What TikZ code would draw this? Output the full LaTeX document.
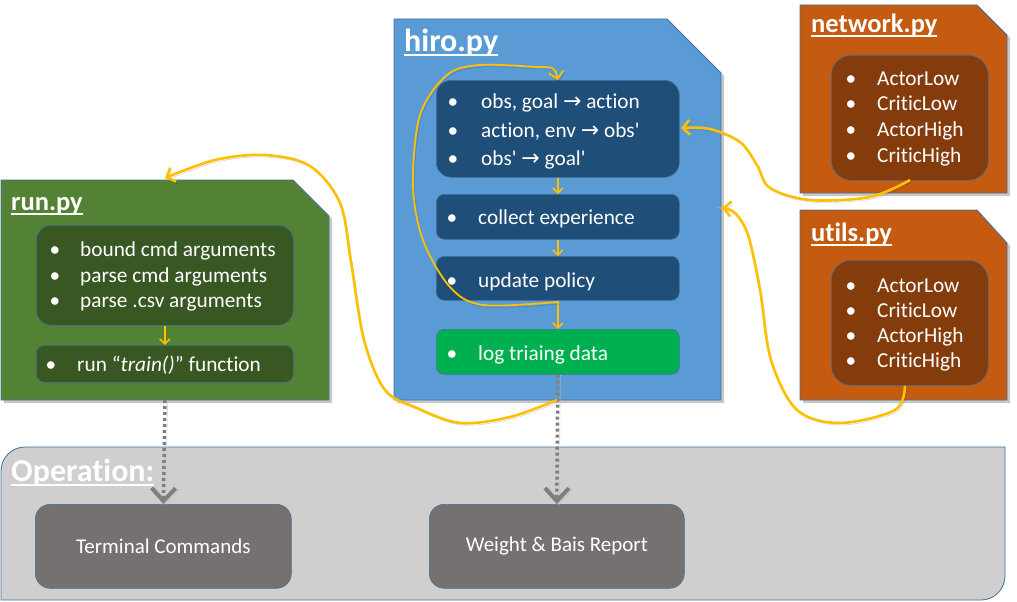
\documentclass[tikz,border=0pt]{standalone}
\usepackage{fontspec}
\setmainfont{Carlito}[Ligatures={TeXOff, NoCommon}]
\newfontfamily\arrowfont{DejaVu Sans}
\usetikzlibrary{arrows.meta}

\definecolor{runfill}{HTML}{548235}
\definecolor{runbox}{HTML}{385723}
\definecolor{hirofill}{HTML}{5B9BD5}
\definecolor{hirobox}{HTML}{1F4E79}
\definecolor{logfill}{HTML}{00B050}
\definecolor{netfill}{HTML}{C55A11}
\definecolor{netbox}{HTML}{843C0C}
\definecolor{opfill}{HTML}{D0CECE}
\definecolor{opbox}{HTML}{767171}
\definecolor{edge}{HTML}{41719C}
\definecolor{flow}{HTML}{FFC000}
\definecolor{dots}{HTML}{7F7F7F}

% underlined heading with the rule just under the baseline
\newsavebox\ttlbox
\newcommand\titleline[1]{\sbox\ttlbox{#1}\rlap{\rule[-4.5pt]{\wd\ttlbox}{2pt}}\usebox\ttlbox}
\newcommand\arr{{\arrowfont\fontsize{22}{24}\selectfont →}}

% bullet + text on one baseline: name, bullet x, text x, baseline y, text
\newcommand\listline[5]{%
  \node[bulletmark] (#1b) at (#2,#4) {•};
  \node[itemtext] (#1) at (#3,#4) {#5};}

\tikzset{
  container/.style={draw=edge, line width=0.8pt,
    preaction={fill=black, opacity=.22, transform canvas={shift={(3pt,-3pt)}}}},
  ibox/.style={draw=edge, line width=0.6pt, inner sep=0pt, anchor=north west},
  itemtext/.style={text=white, font=\fontsize{21.3}{25}\selectfont, inner sep=0pt, anchor=base west},
  bulletmark/.style={text=white, font=\fontsize{21.3}{25}\selectfont, inner sep=0pt, anchor=base},
  titletext/.style={text=white, font=\bfseries\fontsize{26.5}{30}\selectfont, inner sep=0pt, anchor=base west},
  bigtitle/.style={titletext, font=\bfseries\fontsize{32}{36}\selectfont},
  flowstep/.style={draw=flow, line width=1.6pt, -{Straight Barb[length=5pt, width=10pt]}},
  flowcurve/.style={draw=flow, line width=2.6pt, -{Straight Barb[length=7pt, width=15pt]},
    preaction={draw=black, opacity=.22, transform canvas={shift={(1.5pt,-2pt)}}}},
  dotlink/.style={draw=dots, line width=3.5pt, dash pattern=on 3pt off 3pt,
    -{Straight Barb[length=13pt, width=24pt, line width=4pt]},
    preaction={draw=black!22, transform canvas={shift={(2.5pt,-0.5pt)}}}},
}

\begin{document}
\begin{tikzpicture}[x=1pt, y=-1pt]
\useasboundingbox (0,0) rectangle (1017,602);

% ---------- operation panel ----------
\draw[draw=edge, fill=opfill, line width=0.8pt]
  (1,600) -- (1,471) arc[start angle=180, end angle=270, radius=24]
  -- (1005,447) -- (1005,576) arc[start angle=0, end angle=90, radius=24] -- cycle;
\node[bigtitle] (optitle) at (11,481) {\titleline{Operation:}};
\node[ibox, fill=opbox, rounded corners=15pt, minimum width=256pt, minimum height=84pt,
  text=white, font=\fontsize{21}{25}\selectfont] (term) at (35,504) {Terminal Commands};
\node[ibox, fill=opbox, rounded corners=15pt, minimum width=255pt, minimum height=84pt,
  text=white, font=\fontsize{21}{25}\selectfont] (report) at (429,504) {Weight \& Bais Report};

% ---------- run.py ----------
\path[container, fill=runfill] (1,180) -- (293,180) -- (329,216) -- (329,400) -- (1,400) -- cycle;
\coordinate (runtop) at (165,178);
\coordinate (runbot) at (165,400);
\node[titletext] (runtitle) at (11,210) {\titleline{run.py}};
\node[ibox, fill=runbox, rounded corners=15pt, minimum width=257pt, minimum height=100pt] (runA) at (36,225) {};
\node[ibox, fill=runbox, rounded corners=8pt, minimum width=257pt, minimum height=37pt] (runB) at (36,345) {};
\listline{r1}{55}{80}{256}{bound cmd arguments}
\listline{r2}{55}{80}{282}{parse cmd arguments}
\listline{r3}{55}{80}{307}{parse .csv arguments}
\listline{r4}{51}{77}{371}{run “\textit{train()}” function}
\draw[flowstep] (runA.south) -- (runB.north);

% ---------- hiro.py ----------
\path[container, fill=hirofill] (394,19) -- (667,19) -- (721,73) -- (721,400) -- (394,400) -- cycle;
\coordinate (hirobot) at (557,400);
\coordinate (hiroside) at (722,208);
\node[bigtitle] (hirotitle) at (404,52) {\titleline{hiro.py}};
\node[ibox, fill=hirobox, rounded corners=15pt, minimum width=243pt, minimum height=97pt] (hA) at (436,80) {};
\node[ibox, fill=hirobox, rounded corners=8pt, minimum width=243pt, minimum height=45pt] (hB) at (436,194) {};
\node[ibox, fill=hirobox, rounded corners=8pt, minimum width=243pt, minimum height=44pt] (hC) at (436,256) {};
\node[ibox, fill=logfill, rounded corners=8pt, minimum width=243pt, minimum height=45pt] (hD) at (436,329) {};
\listline{h1}{453}{481}{108}{obs, goal \arr\ action}
\listline{h2}{453}{481}{137}{action, env \arr\ obs'}
\listline{h3}{453}{481}{165}{obs' \arr\ goal'}
\listline{h4}{452}{478}{224}{collect experience}
\listline{h5}{452}{478}{287}{update policy}
\listline{h6}{452}{478}{360}{log triaing data}
\draw[flowstep] (hA.south) -- (hB.north);
\draw[flowstep] (hB.south) -- (hC.north);
\draw[flowstep] (hC.south) -- (hD.north);
\coordinate (loopstart) at (557.5,302);
\coordinate (hAright) at (681,128);

% ---------- network.py ----------
\path[container, fill=netfill] (800,5) -- (977,5) -- (1007,35) -- (1007,193) -- (800,193) -- cycle;
\node[titletext] (nettitle) at (811,33) {\titleline{network.py}};
\node[ibox, fill=netbox, rounded corners=20pt, minimum width=157pt, minimum height=125pt] (netA) at (831,55) {};
\listline{n1}{851}{877}{85}{ActorLow}
\listline{n2}{851}{877}{110.5}{CriticLow}
\listline{n3}{851}{877}{136.5}{ActorHigh}
\listline{n4}{851}{877}{162}{CriticHigh}
\coordinate (netout) at (910,180);

% ---------- utils.py ----------
\path[container, fill=netfill] (800,210) -- (977,210) -- (1007,243) -- (1007,400) -- (800,400) -- cycle;
\node[titletext] (utiltitle) at (811,241) {\titleline{utils.py}};
\node[ibox, fill=netbox, rounded corners=20pt, minimum width=157pt, minimum height=125pt] (utilA) at (831,260) {};
\listline{u1}{851}{877}{292}{ActorLow}
\listline{u2}{851}{877}{317}{CriticLow}
\listline{u3}{851}{877}{342}{ActorHigh}
\listline{u4}{851}{877}{367}{CriticHigh}
\coordinate (utilout) at (905,386);

% ---------- dotted outputs ----------
\draw[dotlink] (runbot) -- (term.north);
\draw[dotlink] (hD.south) -- (report.north);

% ---------- yellow flows ----------
\draw[flowcurve] plot[smooth, tension=0.55] coordinates {(hirobot) (510,417) (460,423) (417,408) (385,390) (364,340) (351,262) (340,203) (310,166) (265,155) (215,160) (runtop)};
\draw[flowcurve, line width=1.8pt] plot[smooth, tension=0.55] coordinates {(loopstart) (483,305) (450,287) (423,240) (413,185) (420,115) (447,75) (480,65) (535,67)} .. controls (555,67) .. (hA.north);
\draw[flowcurve] plot[smooth, tension=0.55] coordinates {(netout) (870,197) (810,200) (770,188) (757,165) (740,142) (710,129) (hAright)};
\draw[flowcurve] plot[smooth, tension=0.55] coordinates {(utilout) (895,410) (840,423) (797,410) (771,360) (760,290) (748,235) (735,213) (hiroside)};
\end{tikzpicture}
\end{document}
